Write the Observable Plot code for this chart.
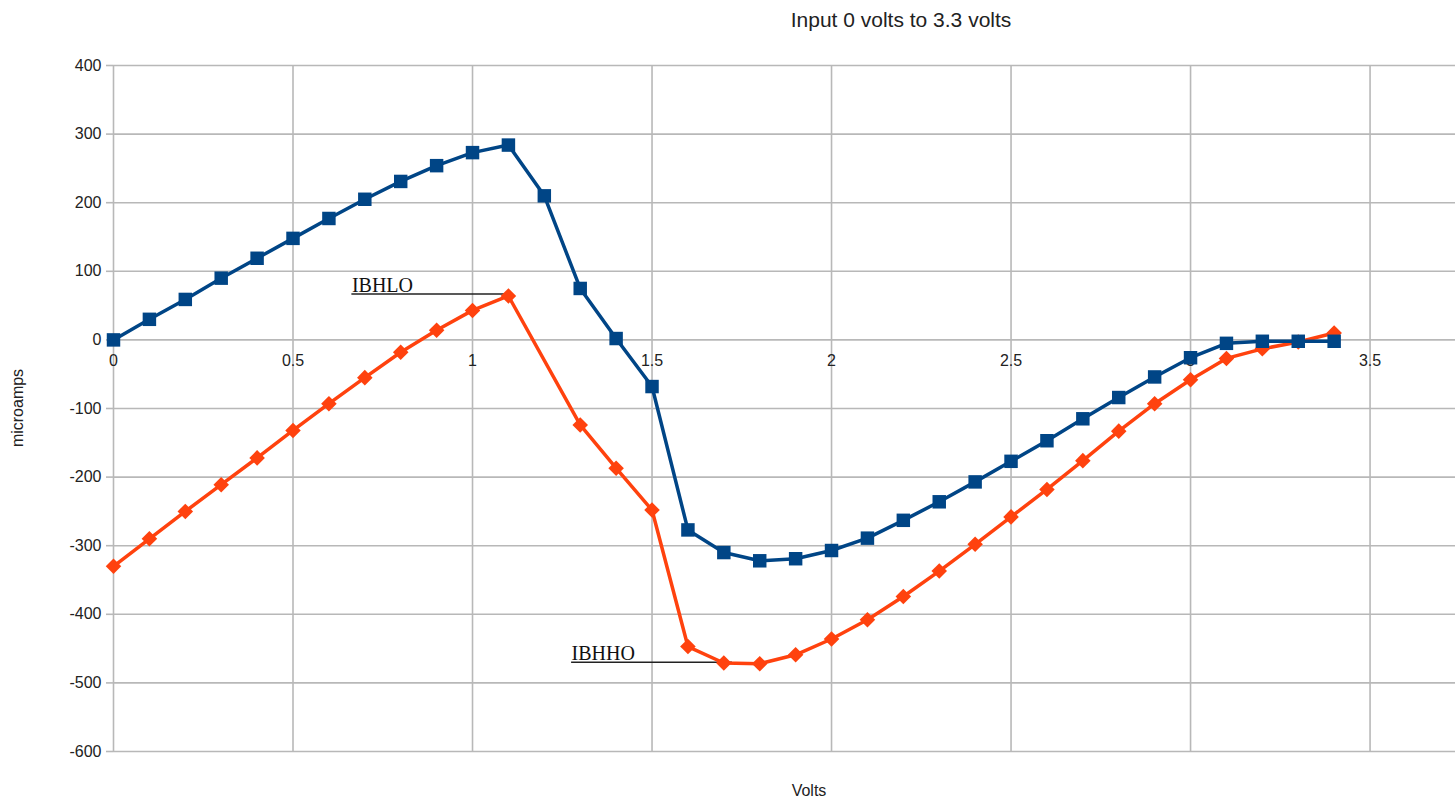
<!DOCTYPE html>
<html><head><meta charset="utf-8">
<script src="https://cdn.jsdelivr.net/npm/d3@7"></script>
<script src="https://cdn.jsdelivr.net/npm/@observablehq/plot@0.6"></script>
<style>body{margin:0;background:#fff;} svg{display:block}</style>
</head><body><div id="chart"></div>
<script>
const volts = [0,0.1,0.2,0.3,0.4,0.5,0.6,0.7,0.8,0.9,1.0,1.1,1.2,1.3,1.4,1.5,1.6,1.7,1.8,1.9,2.0,2.1,2.2,2.3,2.4,2.5,2.6,2.7,2.8,2.9,3.0,3.1,3.2,3.3,3.4];
const blueSeries = [0,30,59,90,119,148,177,205,231,254,273,284,210,75,2,-68,-277,-310,-322,-319,-307,-289,-263,-236,-207,-177,-147,-115,-84,-54,-26,-5,-2,-2,-2];
const orangeSeries = [-330,-290,-250,-211,-172,-132,-93,-55,-18,14,43,64,null,-124,-187,-248,-447,-471,-472,-459,-436,-408,-374,-337,-298,-258,-218,-176,-133,-93,-58,-27,-13,-3,10];
const xTicks = [0,0.5,1,1.5,2,2.5,3,3.5];
const xTickLabels = ["0","0.5","1","1.5","2","2.5","3","3.5"];
const yTicks = [-600,-500,-400,-300,-200,-100,0,100,200,300,400];
const annotLabels = ["IBHLO","IBHHO"];
const annotX1 = [0.664,1.276];
const annotX2 = [1.106,1.724];
const annotY = [67,-470];

const blue = volts.map((v,i)=>({x:v,y:blueSeries[i]}));
const orange = volts.map((v,i)=>({x:v,y:orangeSeries[i]})).filter(d=>d.y!==null);
const annots = annotLabels.map((t,i)=>({text:t,x1:annotX1[i],x2:annotX2[i],y:annotY[i]}));
const xLab = xTicks.map((v,i)=>({x:v,t:xTickLabels[i]}));

const BLUE = "#004586", ORANGE = "#ff420e", GRID = "#b8b8b8";

const plot = Plot.plot({
  width: 1455, height: 802,
  marginLeft: 113, marginRight: 0, marginTop: 65, marginBottom: 51,
  style: {fontFamily: "'Liberation Sans', Arial, sans-serif", fontSize: "16px", background: "#fff", color: "#222", overflow: "visible"},
  x: {domain: [0, 3.738], axis: null},
  y: {domain: [-600, 400], axis: null},
  marks: [
    Plot.gridX(xTicks, {stroke: GRID, strokeOpacity: 1, strokeWidth: 1.6}),
    Plot.gridY(yTicks, {stroke: GRID, strokeOpacity: 1, strokeWidth: 1.6}),
    Plot.axisY(yTicks, {anchor: "left", tickSize: 7, tickPadding: 5, stroke: GRID, strokeWidth: 1.6, fill: "#222", label: null, tickFormat: d => String(d), fontSize: 16}),
    Plot.text(xLab, {x: "x", y: () => 0, text: "t", dy: 21, fill: "#222", fontSize: 16}),
    Plot.ruleY(annots, {x1: "x1", x2: "x2", y: "y", stroke: "#222", strokeWidth: 1.4}),
    Plot.text(annots, {x: "x1", y: "y", text: "text", textAnchor: "start", lineAnchor: "bottom", dy: -2, fontFamily: "'Liberation Serif', 'Times New Roman', serif", fontSize: 20, fill: "#111"}),
    Plot.line(orange, {x: "x", y: "y", stroke: ORANGE, strokeWidth: 3.5}),
    Plot.dot(orange, {x: "x", y: "y", symbol: "diamond2", r: 7, fill: ORANGE, stroke: null}),
    Plot.line(blue, {x: "x", y: "y", stroke: BLUE, strokeWidth: 3.5}),
    Plot.dot(blue, {x: "x", y: "y", symbol: "square", r: 7.6, fill: BLUE, stroke: null})
  ]
});

const svg = d3.select(plot);
svg.append("text").attr("x", 901).attr("y", 27).attr("text-anchor", "middle")
  .style("font-family", "'Liberation Sans', Arial, sans-serif").style("font-size", "21px").attr("fill", "#222")
  .text("Input 0 volts to 3.3 volts");
svg.append("text").attr("x", 809).attr("y", 796).attr("text-anchor", "middle")
  .style("font-family", "'Liberation Sans', Arial, sans-serif").style("font-size", "16px").attr("fill", "#222")
  .text("Volts");
svg.append("text").attr("transform", "translate(23,408) rotate(-90)").attr("text-anchor", "middle")
  .style("font-family", "'Liberation Sans', Arial, sans-serif").style("font-size", "16px").attr("fill", "#222")
  .text("microamps");

document.getElementById("chart").appendChild(plot);
</script>
</body></html>
